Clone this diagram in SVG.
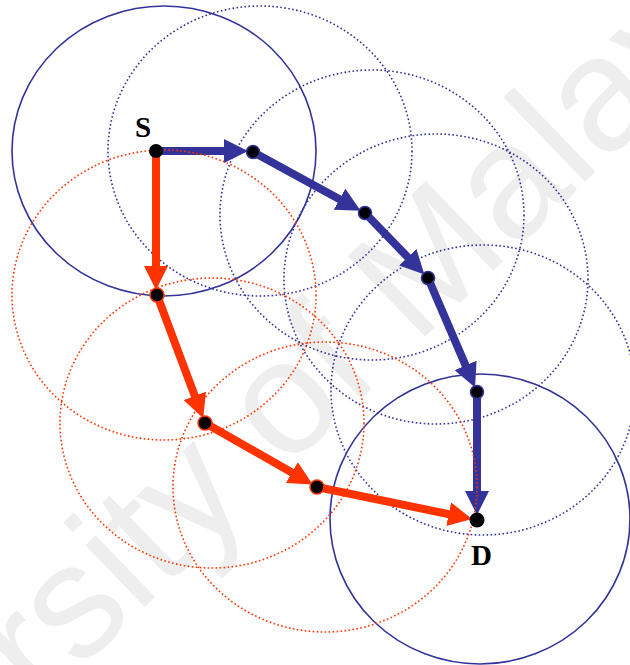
<svg xmlns="http://www.w3.org/2000/svg" width="630" height="665" viewBox="0 0 630 665">
<style>
.wm{font-family:"Liberation Sans",Arial,sans-serif;font-size:162px;fill:#eeeeee}
.rng{fill:none;stroke:#333399;stroke-width:1.6}
.bd{fill:none;stroke:#333399;stroke-width:1.6;stroke-dasharray:1.6 2.4}
.rd{fill:none;stroke:#ff3300;stroke-width:1.6;stroke-dasharray:1.6 2.4}
.ab{stroke:#333399;stroke-width:8;fill:none}
.ar{stroke:#ff3300;stroke-width:8;fill:none}
.nb{fill:#000;stroke:#333399;stroke-width:1.5}
.nr{fill:#000;stroke:#ff3300;stroke-width:1.5}
.ne{fill:#000}
.lbl{font-family:"Liberation Serif","Times New Roman",serif;font-weight:bold;font-size:29px;fill:#000}
</style>
<defs>
<marker id="hb" markerUnits="userSpaceOnUse" markerWidth="24" markerHeight="24" viewBox="0 0 24 24" refX="12" refY="12" orient="auto"><path d="M0,0 L24,12 L0,24 Z" fill="#333399"/></marker>
<marker id="hr" markerUnits="userSpaceOnUse" markerWidth="24" markerHeight="24" viewBox="0 0 24 24" refX="12" refY="12" orient="auto"><path d="M0,0 L24,12 L0,24 Z" fill="#ff3300"/></marker>
</defs>
<rect width="630" height="665" fill="#fff"/>
<text class="wm" transform="translate(-258,996) rotate(-44)" x="0" y="0">University of Malaya</text>
<g id="ranges">
<ellipse class="rng" cx="164" cy="151" rx="152" ry="145"/>
<ellipse class="bd" cx="260" cy="151" rx="152" ry="145"/>
<ellipse class="bd" cx="372" cy="215" rx="152" ry="145"/>
<ellipse class="bd" cx="436" cy="279" rx="152" ry="145"/>
<ellipse class="bd" cx="483" cy="390" rx="152" ry="145"/>
<ellipse class="rng" cx="480" cy="519" rx="150" ry="145"/>
</g>
<g id="connectors">
<line class="ab" x1="156" y1="151" x2="236" y2="151" marker-end="url(#hb)"/>
<line class="ab" x1="253" y1="152" x2="350.1" y2="204.9" marker-end="url(#hb)"/>
<line class="ab" x1="365" y1="213" x2="416.1" y2="265.8" marker-end="url(#hb)"/>
<line class="ab" x1="428" y1="278" x2="470.3" y2="376.4" marker-end="url(#hb)"/>
<line class="ab" x1="477" y1="392" x2="477" y2="503" marker-end="url(#hb)"/>
<line class="ar" x1="156" y1="151" x2="156" y2="278" marker-end="url(#hr)"/>
<line class="ar" x1="157" y1="295" x2="199" y2="407.1" marker-end="url(#hr)"/>
<line class="ar" x1="205" y1="423" x2="302.3" y2="478.5" marker-end="url(#hr)"/>
<line class="ar" x1="317" y1="487" x2="460.4" y2="516.6" marker-end="url(#hr)"/>
</g>
<g id="red-ranges">
<ellipse class="rd" cx="164" cy="295" rx="152" ry="145"/>
<ellipse class="rd" cx="212" cy="423" rx="152" ry="145"/>
<ellipse class="rd" cx="325" cy="487" rx="152" ry="145"/>
</g>
<g id="S"><circle class="ne" cx="156" cy="151" r="7"/><text class="lbl" x="135" y="137">S</text></g>
<g id="b1"><circle class="nb" cx="253" cy="152" r="6.5"/></g>
<g id="b2"><circle class="nb" cx="365" cy="213" r="6.5"/></g>
<g id="b3"><circle class="nb" cx="428" cy="278" r="6.5"/></g>
<g id="b4"><circle class="nb" cx="477" cy="392" r="6.5"/></g>
<g id="r1"><circle class="nr" cx="157" cy="295" r="7"/></g>
<g id="r2"><circle class="nr" cx="205" cy="423" r="7"/></g>
<g id="r3"><circle class="nr" cx="317" cy="487" r="7"/></g>
<g id="D"><circle class="ne" cx="477" cy="520" r="7.5"/><text class="lbl" x="471" y="565">D</text></g>
</svg>
